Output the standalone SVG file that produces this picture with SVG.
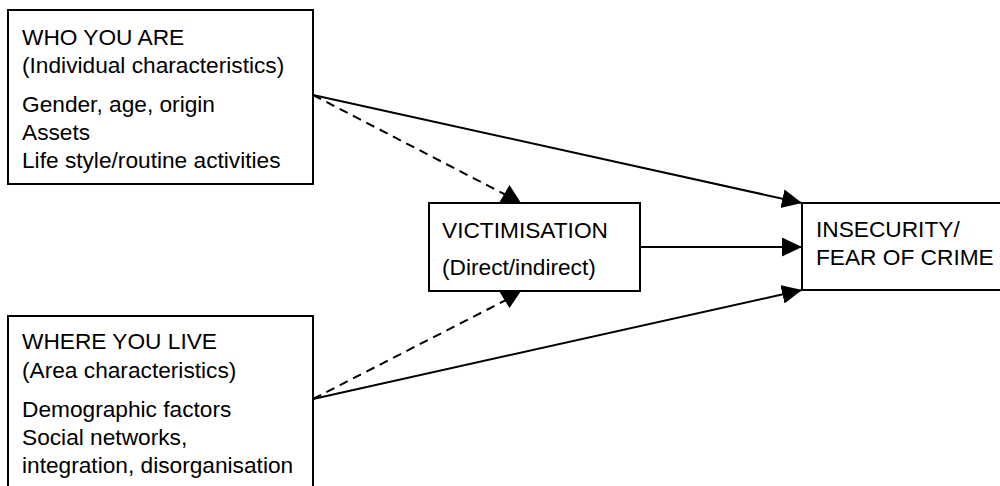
<svg xmlns="http://www.w3.org/2000/svg" width="1000" height="486" viewBox="0 0 1000 486">
  <style>
    .box { fill: #ffffff; stroke: #000000; stroke-width: 2; }
    .t { font-family: "Liberation Sans", Arial, Helvetica, sans-serif; font-size: 22.7px; fill: #000000; }
    .solid { stroke: #000000; stroke-width: 2; fill: none; }
    .dash { stroke: #000000; stroke-width: 2; fill: none; stroke-dasharray: 9 6; }
    .head { fill: #000000; stroke: none; }
  </style>
  <defs>
    <marker id="arrow" markerUnits="userSpaceOnUse" markerWidth="21" markerHeight="20" refX="20" refY="9.5" orient="auto">
      <path d="M0,0 L20,9.5 L0,19 Z" fill="#000000"/>
    </marker>
  </defs>
  <rect width="1000" height="486" fill="#ffffff"/>

  <g id="connectors">
    <line class="solid" x1="313" y1="95" x2="802" y2="203" marker-end="url(#arrow)"/>
    <line class="solid" x1="640" y1="247" x2="802" y2="247" marker-end="url(#arrow)"/>
    <line class="solid" x1="313" y1="399" x2="802" y2="290" marker-end="url(#arrow)"/>
    <line class="dash" x1="313" y1="95" x2="506" y2="195"/>
    <line class="dash" x1="313" y1="399" x2="506" y2="300"/>
    <polygon class="head" points="499,203 509.5,185 521,203"/>
    <polygon class="head" points="499,291 509.5,308 521,291"/>
  </g>

  <g id="who-you-are">
    <rect class="box" x="8" y="10" width="305" height="174"/>
    <text class="t" x="22" y="45">WHO YOU ARE</text>
    <text class="t" x="22" y="73">(Individual characteristics)</text>
    <text class="t" x="22" y="112">Gender, age, origin</text>
    <text class="t" x="22" y="140">Assets</text>
    <text class="t" x="22" y="168">Life style/routine activities</text>
  </g>

  <g id="where-you-live">
    <rect class="box" x="8" y="316" width="305" height="190"/>
    <text class="t" x="22" y="349">WHERE YOU LIVE</text>
    <text class="t" x="22" y="378">(Area characteristics)</text>
    <text class="t" x="22" y="417">Demographic factors</text>
    <text class="t" x="22" y="445">Social networks,</text>
    <text class="t" x="22" y="473">integration, disorganisation</text>
  </g>

  <g id="victimisation">
    <rect class="box" x="429" y="203" width="211" height="88"/>
    <text class="t" x="442" y="238">VICTIMISATION</text>
    <text class="t" x="442" y="275">(Direct/indirect)</text>
  </g>

  <g id="insecurity">
    <rect class="box" x="802" y="203" width="210" height="87"/>
    <text class="t" x="816" y="237">INSECURITY/</text>
    <text class="t" x="816" y="265">FEAR OF CRIME</text>
  </g>
</svg>
